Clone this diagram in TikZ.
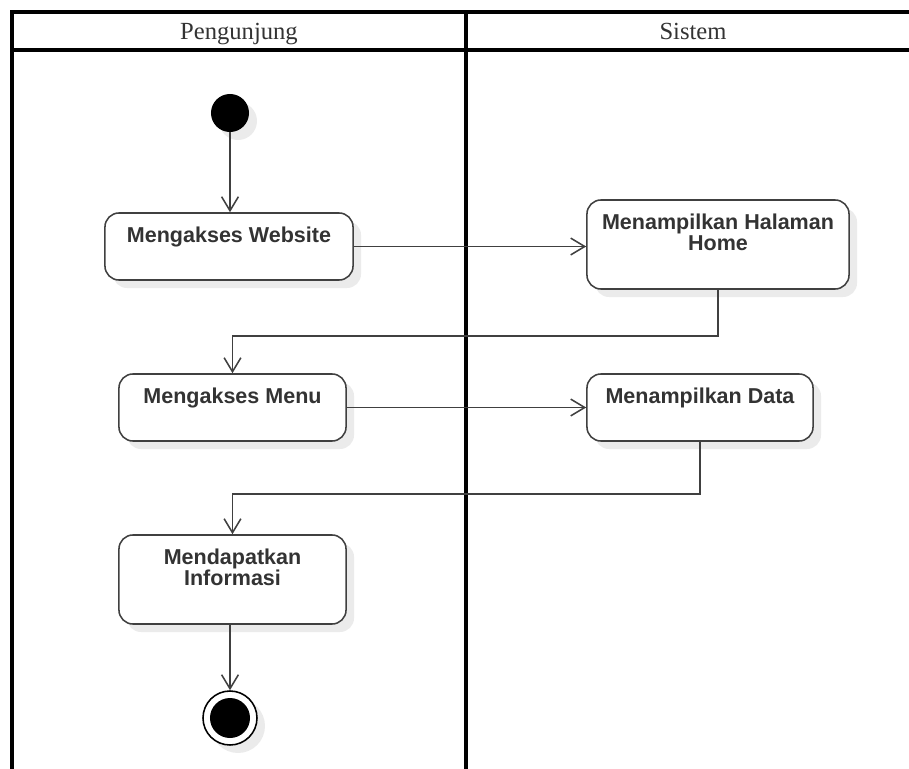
\documentclass[tikz,border=0pt]{standalone}
\usepackage{fontspec}
\setmainfont{Liberation Serif}
\setsansfont{Liberation Sans}
\usetikzlibrary{arrows.meta,shadows,positioning}
\definecolor{linegray}{HTML}{404040}
\definecolor{textgray}{HTML}{333333}
\tikzset{
  lane/.style={line width=2.2pt, black},
  head/.style={font=\fontsize{17.5}{18}\selectfont, text=textgray, anchor=base},
  act/.style={draw=linegray, line width=1.1pt, rounded corners=0.35cm, fill=white,
    drop shadow={shadow xshift=0.2cm, shadow yshift=-0.2cm, fill=black!8, opacity=1}},
  acttext/.style={font=\sffamily\bfseries\fontsize{15.3}{15}\selectfont, text=textgray, align=center, inner sep=0pt},
  startst/.style={circle, fill=black, minimum size=0.95cm, inner sep=0pt,
    drop shadow={shadow xshift=0.2cm, shadow yshift=-0.2cm, fill=black!8, opacity=1}},
  endst/.style={circle, draw=black, line width=1.1pt, fill=white, minimum size=1.35cm, inner sep=0pt,
    drop shadow={shadow xshift=0.2cm, shadow yshift=-0.2cm, fill=black!8, opacity=1},
    path picture={\fill[black] (path picture bounding box.center) circle (0.5cm);}},
  flow/.style={draw=linegray, line width=1.1pt, -{Straight Barb[length=3.5mm, width=4.2mm, line width=1.1pt]}},
}
\begin{document}
\begin{tikzpicture}[x=0.025cm, y=-0.025cm]
	    \useasboundingbox (0,0) rectangle (909,769);
	    % swimlanes
	    \draw[lane] (12,769) -- (12,12) -- (909,12);
	    \draw[lane] (12,50) -- (909,50);
	    \draw[lane] (466,12) -- (466,769);
	    \node[head] (hpeng) at (239,39) {Pengunjung};
	    \node[head] (hsis) at (693,39) {Sistem};
	    % activities
	    \node[startst] (start) at (230,113) {};
	    \node[act, minimum width=6.2cm, minimum height=1.675cm] (web) at (229,246.5) {};
	    \node[act, minimum width=6.55cm, minimum height=2.225cm] (home) at (718,244.5) {};
	    \node[act, minimum width=5.675cm, minimum height=1.675cm] (menu) at (232.5,407.5) {};
	    \node[act, minimum width=5.65cm, minimum height=1.675cm] (data) at (700,407.5) {};
	    \node[act, minimum width=5.675cm, minimum height=2.225cm] (info) at (232.5,579.5) {};
	    \node[endst] (end) at (230,718) {};
	    \node[acttext, below=0.37cm of web.north] (webtext) {Mengakses Website};
	    \node[acttext, below=0.35cm of home.north] (hometext) {Menampilkan Halaman\\Home};
	    \node[acttext, below=0.37cm of menu.north] (menutext) {Mengakses Menu};
	    \node[acttext, below=0.37cm of data.north] (datatext) {Menampilkan Data};
	    \node[acttext, below=0.35cm of info.north] (infotext) {Mendapatkan\\Informasi};
	    % flows
	    \draw[flow] (start) -- (start |- web.north);
	    \draw[flow] (web.east) -- (web.east -| home.west);
	    \draw[flow] (home.south) -- ++(0,46) -| (menu.north);
	    \draw[flow] (menu.east) -- (menu.east -| data.west);
	    \draw[flow] (data.south) -- ++(0,52) -| (info.north);
	    \draw[flow] (info.south -| end) -- (end.north);
\end{tikzpicture}
\end{document}
